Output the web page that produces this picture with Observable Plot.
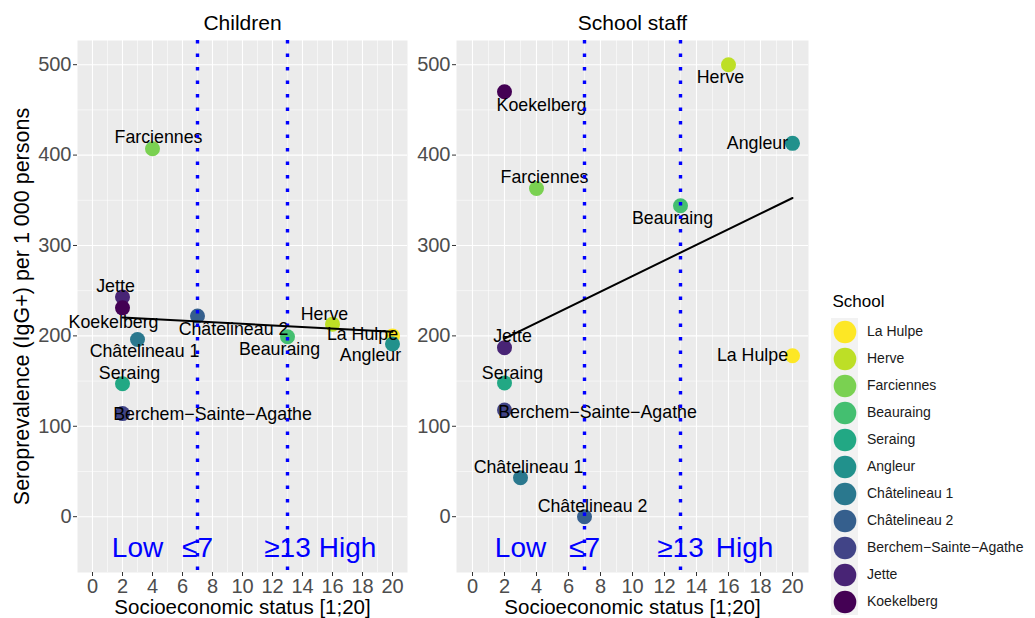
<!DOCTYPE html>
<html>
<head>
<meta charset="utf-8">
<script src="https://cdn.jsdelivr.net/npm/d3@7"></script>
<script src="https://cdn.jsdelivr.net/npm/@observablehq/plot@0.6"></script>
<style>
  html, body { margin: 0; padding: 0; background: white; }
  #chart { position: relative; width: 1035px; height: 618px; font-family: "Liberation Sans", Arial, sans-serif; }
  #chart svg { position: absolute; top: 0; background: transparent; max-width: none; }
</style>
</head>
<body>
<div id="chart"></div>
<script>
// ---------- data ----------
const schools = ["Koekelberg", "Jette", "Berchem−Sainte−Agathe", "Châtelineau 2", "Châtelineau 1",
                 "Angleur", "Seraing", "Beauraing", "Farciennes", "Herve", "La Hulpe"];
const ses = [2, 2, 2, 7, 3, 20, 2, 13, 4, 16, 20];
const childrenSero = [231, 243, 114, 222, 196, 191, 147, 199, 407, 213, 200];
const staffSero = [470, 187, 118, 0, 43, 413, 148, 344, 363, 500, 178];

const xTicks = [0, 2, 4, 6, 8, 10, 12, 14, 16, 18, 20];
const xMinor = [1, 3, 5, 7, 9, 11, 13, 15, 17, 19];
const yTicks = [0, 100, 200, 300, 400, 500];
const yMinor = [50, 150, 250, 350, 450];
const cutoffs = [7, 13];
const annX = [3, 7, 13, 17];
const annY = [-35, -35, -35, -35];
const annText = ["Low", "≤7", "≥13", "High"];

// label nudges (pixels), like ggrepel placement
const childNudge = {
  "Koekelberg": [-9, 14], "Jette": [-7, -11], "Berchem−Sainte−Agathe": [90, 1],
  "Châtelineau 2": [36, 13], "Châtelineau 1": [7, 12], "Angleur": [-22, 11],
  "Seraing": [7, -10], "Beauraing": [-8, 13], "Farciennes": [6, -11],
  "Herve": [-8, -10], "La Hulpe": [-30, -2]
};
const staffNudge = {
  "Koekelberg": [37, 13], "Jette": [8, -11], "Berchem−Sainte−Agathe": [93, 2],
  "Châtelineau 2": [8, -10], "Châtelineau 1": [8, -11], "Angleur": [-35, 0],
  "Seraing": [8, -10], "Beauraing": [-8, 13], "Farciennes": [8, -11],
  "Herve": [-8, 13], "La Hulpe": [-40, 0]
};

const font = "Liberation Sans, Arial, sans-serif";
const colors = d3.quantize(d3.interpolateViridis, schools.length);
const colorOf = Object.fromEntries(schools.map((s, i) => [s, colors[i]]));

function panel(title, values, nudge, opts) {
  const data = schools.map((s, i) => ({school: s, ses: ses[i], sero: values[i]}));
  const drawOrder = data.slice().reverse();
  const ann = annText.map((t, i) => ({t, x: annX[i], y: annY[i]}));
  const marks = [
    Plot.frame({fill: "#ebebeb"}),
    Plot.ruleX(xMinor, {stroke: "white", strokeWidth: 0.55}),
    Plot.ruleY(yMinor, {stroke: "white", strokeWidth: 0.55}),
    Plot.ruleX(xTicks, {stroke: "white", strokeWidth: 1.1}),
    Plot.ruleY(yTicks, {stroke: "white", strokeWidth: 1.1}),
    Plot.axisX(xTicks, {tickSize: 4, tickPadding: 2, fontSize: 20, stroke: "#333333", fill: "#4d4d4d", label: null}),
    Plot.axisY(yTicks, {tickSize: 4, tickPadding: 2, fontSize: 20, stroke: "#333333", fill: "#4d4d4d", label: null}),
    Plot.dot(drawOrder, {x: "ses", y: "sero", fill: d => colorOf[d.school], r: 7.5}),
    ...data.map(d => Plot.text([d], {x: "ses", y: "sero", text: "school", fontSize: 17.8, fill: "black",
        dx: nudge[d.school][0], dy: nudge[d.school][1]})),
    Plot.ruleX(cutoffs, {stroke: "blue", strokeWidth: 3.4, strokeDasharray: "3.4 10.1"}),
    Plot.linearRegressionY(data, {x: "ses", y: "sero", stroke: "black", strokeWidth: 2, ci: 0}),
    Plot.text(ann, {x: "x", y: "y", text: "t", fill: "blue", fontSize: 28}),
    Plot.text([title], {frameAnchor: "top", lineAnchor: "middle", dy: -17, fontSize: 21, fill: "black"}),
    Plot.text(["Socioeconomic status [1;20]"], {frameAnchor: "bottom", lineAnchor: "middle", dy: 34.5, fontSize: 20.5, fill: "black"})
  ];
  if (opts.ylabel) {
    marks.push(Plot.text([opts.ylabel], {frameAnchor: "left", textAnchor: "middle", lineAnchor: "middle",
      dx: -55, rotate: -90, fontSize: 21.5, fill: "black"}));
  }
  const svg = Plot.plot({
    width: opts.width, height: 618,
    marginLeft: opts.marginLeft, marginRight: 8, marginTop: 40, marginBottom: 46,
    x: {domain: [-1, 21]},
    y: {domain: [-61.75, 526.75]},
    style: {fontFamily: font, background: "transparent", overflow: "visible"},
    marks
  });
  svg.style.left = opts.left + "px";
  return svg;
}

const chart = document.getElementById("chart");
chart.appendChild(panel("Children", childrenSero, childNudge,
  {left: 0, width: 415, marginLeft: 77, ylabel: "Seroprevalence (IgG+) per 1 000 persons"}));
chart.appendChild(panel("School staff", staffSero, staffNudge,
  {left: 415, width: 401, marginLeft: 41}));

// legend
const legendOrder = schools.slice().reverse();
const legend = Plot.plot({
  width: 219, height: 618,
  marginLeft: 0, marginRight: 0, marginTop: 316.7, marginBottom: 2,
  x: {type: "band", domain: ["key"], range: [15, 42.3], axis: null, padding: 0},
  y: {type: "band", domain: legendOrder, axis: null, padding: 0},
  style: {fontFamily: font, background: "transparent", overflow: "visible"},
  marks: [
    Plot.cell(legendOrder, {x: () => "key", y: d => d, fill: "#f2f2f2", inset: 0}),
    Plot.dot(legendOrder, {x: () => "key", y: d => d, fill: d => colorOf[d], r: 11.3}),
    Plot.text(legendOrder, {x: () => "key", y: d => d, text: d => d, dx: 22, textAnchor: "start", fontSize: 14, fill: "#1a1a1a"}),
    Plot.text(["School"], {frameAnchor: "top-left", lineAnchor: "middle", dx: 16, dy: -16, textAnchor: "start", fontSize: 17, fill: "black"})
  ]
});
legend.style.left = "816px";
chart.appendChild(legend);
</script>
</body>
</html>
